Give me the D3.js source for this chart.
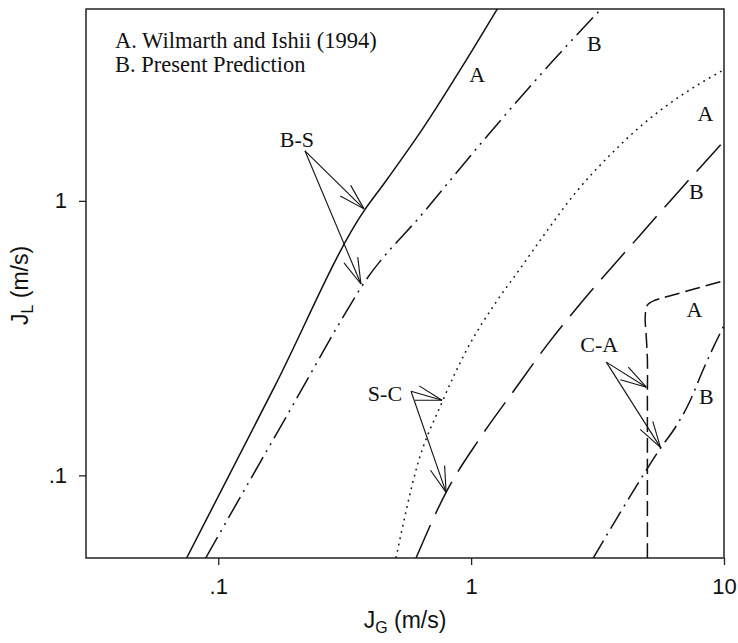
<!DOCTYPE html>
<html>
<head>
<meta charset="utf-8">
<script src="https://cdn.jsdelivr.net/npm/d3@7/dist/d3.min.js"></script>
<style>
  html, body { margin: 0; padding: 0; background: #fff; }
  svg { display: block; }
</style>
</head>
<body>
<svg id="chart" width="738" height="643"></svg>
<script>
// ---------- data ----------
const xTicks = [0.1, 1, 10];
const xTickLabels = [".1", "1", "10"];
const yTicks = [0.1, 1];
const yTickLabels = [".1", "1"];

const legendLines = ["A. Wilmarth and Ishii (1994)", "B. Present Prediction"];

// bubbly-slug boundary
const bsA = [[0.075,0.05],[0.1674,0.2113],[0.377,0.919],[0.452,1.154],[0.6515,1.863],[0.938,3.162],[1.279,5.06]];
const bsB = [[0.0892,0.05],[0.132,0.0943],[0.1902,0.1698],[0.3083,0.371],[0.3701,0.4896],[0.6515,0.912],[1.178,1.756],[2.093,3.216],[3.303,5.06]];
// slug-churn boundary
const scA = [[0.5047,0.05],[0.6111,0.1078],[0.7675,0.1846],[0.964,0.2884],[1.256,0.428],[1.549,0.560],[1.982,0.771],[2.605,1.079],[3.52,1.459],[4.756,1.894],[6.665,2.397],[9.9,2.99]];
const scB = [[0.6056,0.05],[0.796,0.0867],[1.076,0.1353],[1.48,0.2042],[2.037,0.3058],[2.677,0.4173],[4.628,0.7452],[6.484,1.06],[10,1.65]];
// churn-annular boundary
const caA = [[4.978,0.05],[4.978,0.1894],[4.978,0.2651],[4.92,0.327],[4.88,0.3773],[4.978,0.4173],[5.355,0.4352],[6.083,0.450],[10,0.512]];
const caB = [[3.042,0.05],[3.891,0.0733],[4.978,0.106],[5.605,0.1255],[6.427,0.1497],[7.3,0.1846],[8.222,0.2396],[9.006,0.2884],[10,0.352]];

const curveLabels = [
  {t:"A", x:1.056, y:2.72},
  {t:"B", x:3.07,  y:3.53},
  {t:"A", x:8.45,  y:1.959},
  {t:"B", x:7.78,  y:1.017},
  {t:"A", x:7.64,  y:0.3773},
  {t:"B", x:8.52,  y:0.1816}
];

const transitions = [
  {t:"B-S", lx:0.2046, ly:1.574, from:[0.2202,1.522], to:[[0.377,0.935],[0.3667,0.498]]},
  {t:"S-C", lx:0.4564, ly:0.1863, from:[0.5786,0.2025], to:[[0.7675,0.1878],[0.7961,0.0867]]},
  {t:"C-A", lx:3.213,  ly:0.2811, from:[3.424,0.2585],  to:[[4.932,0.2095],[5.605,0.1265]]}
];

// ---------- layout ----------
const W = 738, H = 643;
const m = {left: 86, top: 9, right: 14, bottom: 85};
const svg = d3.select("#chart");

const x = d3.scaleLog().domain([0.03, 10]).range([m.left, W - m.right]);
const y = d3.scaleLog().domain([0.05, 5]).range([H - m.bottom, m.top]);

const serif = "'Liberation Serif', 'Times New Roman', serif";
const sans = "'Liberation Sans', Arial, sans-serif";

svg.append("defs").append("clipPath").attr("id", "plotclip")
  .append("rect")
  .attr("x", m.left).attr("y", m.top)
  .attr("width", W - m.left - m.right).attr("height", H - m.top - m.bottom);

// axes
const xAxis = d3.axisBottom(x).tickValues(xTicks)
  .tickFormat((d, i) => xTickLabels[i]).tickSize(7).tickSizeOuter(0).tickPadding(13);
const gx = svg.append("g").attr("transform", `translate(0,${H - m.bottom})`).call(xAxis);
gx.select(".domain").remove();
gx.selectAll("line").attr("stroke", "#222").attr("stroke-width", 1.3);
gx.selectAll("text").attr("font-family", sans).attr("font-size", 22).attr("fill", "#111");

const yAxis = d3.axisLeft(y).tickValues(yTicks)
  .tickFormat((d, i) => yTickLabels[i]).tickSize(7).tickSizeOuter(0).tickPadding(12);
const gy = svg.append("g").attr("transform", `translate(${m.left},0)`).call(yAxis);
gy.select(".domain").remove();
gy.selectAll("line").attr("stroke", "#222").attr("stroke-width", 1.3);
gy.selectAll("text").attr("font-family", sans).attr("font-size", 22).attr("fill", "#111");

// frame
svg.append("rect")
  .attr("x", m.left).attr("y", m.top)
  .attr("width", W - m.left - m.right).attr("height", H - m.top - m.bottom)
  .attr("fill", "none").attr("stroke", "#222").attr("stroke-width", 1.5);

// axis titles
const xt = svg.append("text")
  .attr("x", (m.left + W - m.right) / 2).attr("y", 628)
  .attr("text-anchor", "middle")
  .attr("font-family", sans).attr("font-size", 23).attr("fill", "#111");
xt.append("tspan").text("J");
xt.append("tspan").attr("font-size", 16).attr("dy", 5).text("G");
xt.append("tspan").attr("dy", -5).text(" (m/s)");

const yt = svg.append("text")
  .attr("transform", `translate(28,${(m.top + H - m.bottom) / 2 + 2}) rotate(-90)`)
  .attr("text-anchor", "middle")
  .attr("font-family", sans).attr("font-size", 23).attr("fill", "#111");
yt.append("tspan").text("J");
yt.append("tspan").attr("font-size", 16).attr("dy", 5).text("L");
yt.append("tspan").attr("dy", -5).text(" (m/s)");

// curves
const lineM = d3.line().x(d => x(d[0])).y(d => y(d[1])).curve(d3.curveMonotoneX);
const lineC = d3.line().x(d => x(d[0])).y(d => y(d[1])).curve(d3.curveCatmullRom.alpha(0.5));
const curves = [
  {d: bsA, dash: null, gen: lineM},
  {d: bsB, dash: "24,6,2,6,2,6", gen: lineM},
  {d: scA, dash: "1.8,4.6", gen: lineM},
  {d: scB, dash: "36,12", gen: lineM},
  {d: caA, dash: "15,6", gen: lineC},
  {d: caB, dash: "20,6,2,6", gen: lineM}
];
const gc = svg.append("g").attr("clip-path", "url(#plotclip)");
curves.forEach(c => {
  gc.append("path").attr("d", c.gen(c.d))
    .attr("fill", "none").attr("stroke", "#111").attr("stroke-width", 1.5)
    .attr("stroke-dasharray", c.dash);
});

// legend
legendLines.forEach((t, i) => {
  svg.append("text").attr("x", 115).attr("y", 48 + i * 24)
    .attr("font-family", serif).attr("font-size", 22.5).attr("fill", "#111").text(t);
});

// curve labels
curveLabels.forEach(l => {
  svg.append("text").attr("x", x(l.x)).attr("y", y(l.y))
    .attr("text-anchor", "middle")
    .attr("font-family", serif).attr("font-size", 22).attr("fill", "#111").text(l.t);
});

// transition annotations with open arrows
const ga = svg.append("g").attr("stroke", "#111").attr("stroke-width", 1.1).attr("fill", "none");
transitions.forEach(tr => {
  svg.append("text").attr("x", x(tr.lx)).attr("y", y(tr.ly))
    .attr("text-anchor", "middle")
    .attr("font-family", serif).attr("font-size", 22).attr("fill", "#111").text(tr.t);
  const x0 = x(tr.from[0]), y0 = y(tr.from[1]);
  tr.to.forEach(t => {
    const x1 = x(t[0]), y1 = y(t[1]);
    const a = Math.atan2(y0 - y1, x0 - x1);
    const L = 27, da = 0.28;
    ga.append("line").attr("x1", x0).attr("y1", y0).attr("x2", x1).attr("y2", y1);
    [a - da, a + da].forEach(b => {
      ga.append("line").attr("x1", x1).attr("y1", y1)
        .attr("x2", x1 + L * Math.cos(b)).attr("y2", y1 + L * Math.sin(b));
    });
  });
});
</script>
</body>
</html>
